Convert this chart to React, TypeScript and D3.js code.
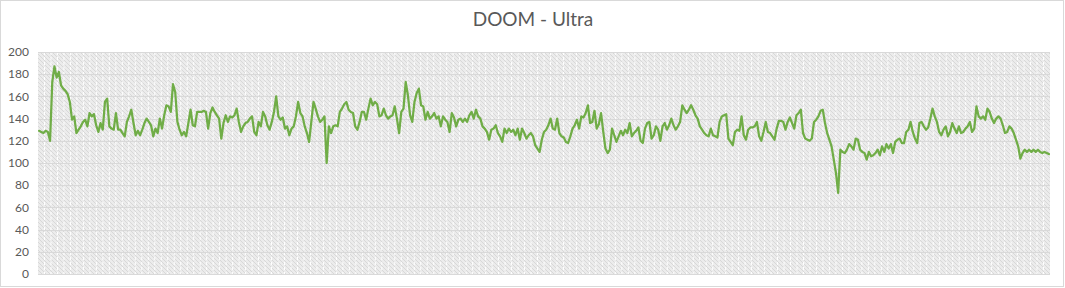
import React from "react";
import * as d3 from "d3";

const title = "DOOM - Ultra";
const yTicks = [0, 20, 40, 60, 80, 100, 120, 140, 160, 180, 200];

const segA = [129,128,127,129,128,120,
173,187,177,182,170,167,165,162,155,139,142,
127,130,133,137,139,133,145,142,144,134,
128,136,130,155,158,133,131,130,145,130,130,
127,124,137,142,148,136,125,129,125,130,
136,140,137,134,124,131,127,140,131,143,
152,151,146,171,164,137,130,125,128,124,
136,148,134,133,146,146,146,147,146,131,
145,150,146,143];
const segB = [140,122,136,143,137,142,141,143,149,137,
128,133,136,137,140,142,128,125,137,133,
146,142,134,130,137,146,160,142,139,141,
131,133,125,131,133,142,155,145,142,
133,127,119,137,155,149,142,137,139,
142,100,133,127,133,134,133,146,149,
153,155,148,146,145,133,130,137,146,146,
139,149,158,152,155,153,142,143,149,143,140,142];
const segC = [143,151,140,127,146,149,173,161,143,137,
155,163,167,152,151,139,146,140,142,145,
140,142,133,142,139,137,128,145,141,133,
139,140,137,140,137,143,146,140,148,142,
140,133,131,128,121,130,131,134,127,124,
119,131,127,131,128,130,125,131,121,131,
127,122,125,127,124,116,113,110,121,128,
130,134,140,131,130,140,127,124];
const segD = [123,119,118,124,131,134,139,131,142,141,145,152,
136,137,147,131,135,145,128,113,109,112,
131,125,119,124,129,125,130,127,136,124,
127,129,132,120,118,131,136,137,122,125,
133,130,120,133,136,130,134,140,134,130,
133,137,152,148,145,148,152,148,143,140,
133,130,127,125,124,131,125,124,123,137,
142,143,144,122,119,116,128,130];
const segE = [129,142,125,121,130,132,132,133,137,124,
120,128,137,128,127,124,121,131,138,138,137,
130,137,141,136,131,143,145,148,127,122,
121,120,122,137,139,142,147,148,136,127,121,
115,103,91,73,
112,110,109,112,117,115,112,122,121,112,
110,109,103,110,106,107,109,112,107,115,
110,117,113,117,109,119,121,122,118];
const segF = [118,128,130,137,128,122,118,136,
137,133,130,132,140,149,142,137,128,125,
130,133,124,128,136,131,127,133,127,128,
131,133,137,128,131,151,142,140,142,139,
149,146,140,136,140,142,140,134,127,128,
133,131,127,121,115,104,109,112,110,112,
110,112,110,112,110,109,110,109,108];

const fps = [...segA, ...segB, ...segC, ...segD, ...segE, ...segF];
const samples = fps.map((_, i) => i + 1);
const gridCount = 156;

const W = 1065;
const H = 288;
const plot = { left: 38, right: 1050, top: 52, bottom: 274 };

export default function App() {
  const x = d3
    .scaleBand<number>()
    .domain(samples)
    .range([plot.left, plot.right])
    .paddingInner(0)
    .paddingOuter(0);
  const y = d3.scaleLinear().domain([0, 200]).range([plot.bottom, plot.top]);
  const line = d3
    .line<number>()
    .x((_, i) => (x(samples[i]) as number) + x.bandwidth() / 2)
    .y((d) => y(d));
  const gx = d3.scaleLinear().domain([0, gridCount]).range([plot.left, plot.right]);
  const vGrid = d3.range(1, gridCount).map((i) => gx(i));

  return (
    <svg
      width={W}
      height={H}
      style={{ position: "absolute", left: 0, top: 0, fontFamily: "Lato, 'Open Sans', sans-serif" }}
    >
      <defs>
        <pattern id="hatch" width="4" height="4" patternUnits="userSpaceOnUse">
          <rect width="4" height="4" fill="#ececec" />
          <path d="M-1,-1 L5,5 M-1,3 L1,5 M3,-1 L5,1" stroke="#d8d8d8" strokeWidth="1" />
        </pattern>
      </defs>
      <rect x={0.5} y={0.5} width={W - 2} height={H - 2} fill="#ffffff" stroke="#d9d9d9" />
      <text x={533} y={26} textAnchor="middle" fontSize={19} fill="#595959">
        {title}
      </text>
      <rect
        x={plot.left}
        y={plot.top}
        width={plot.right - plot.left}
        height={plot.bottom - plot.top}
        fill="url(#hatch)"
      />
      {vGrid.map((gxv, i) => (
        <line
          key={"v" + i}
          x1={gxv}
          x2={gxv}
          y1={plot.top}
          y2={plot.bottom}
          stroke="#ffffff"
          strokeWidth={1}
          strokeDasharray="3,2"
        />
      ))}
      {yTicks.map((t) => (
        <g key={"h" + t}>
          <line
            x1={plot.left}
            x2={plot.right}
            y1={Math.round(y(t)) + 0.5}
            y2={Math.round(y(t)) + 0.5}
            stroke="#d9d9d9"
            strokeWidth={1}
          />
          <text
            x={29}
            y={y(t)}
            dy="0.35em"
            textAnchor="end"
            fontSize={12}
            fill="#595959"
          >
            {t}
          </text>
        </g>
      ))}
      <path
        d={line(fps) || ""}
        fill="none"
        stroke="#70ad47"
        strokeWidth={2.25}
        strokeLinejoin="round"
        strokeLinecap="round"
      />
    </svg>
  );
}
